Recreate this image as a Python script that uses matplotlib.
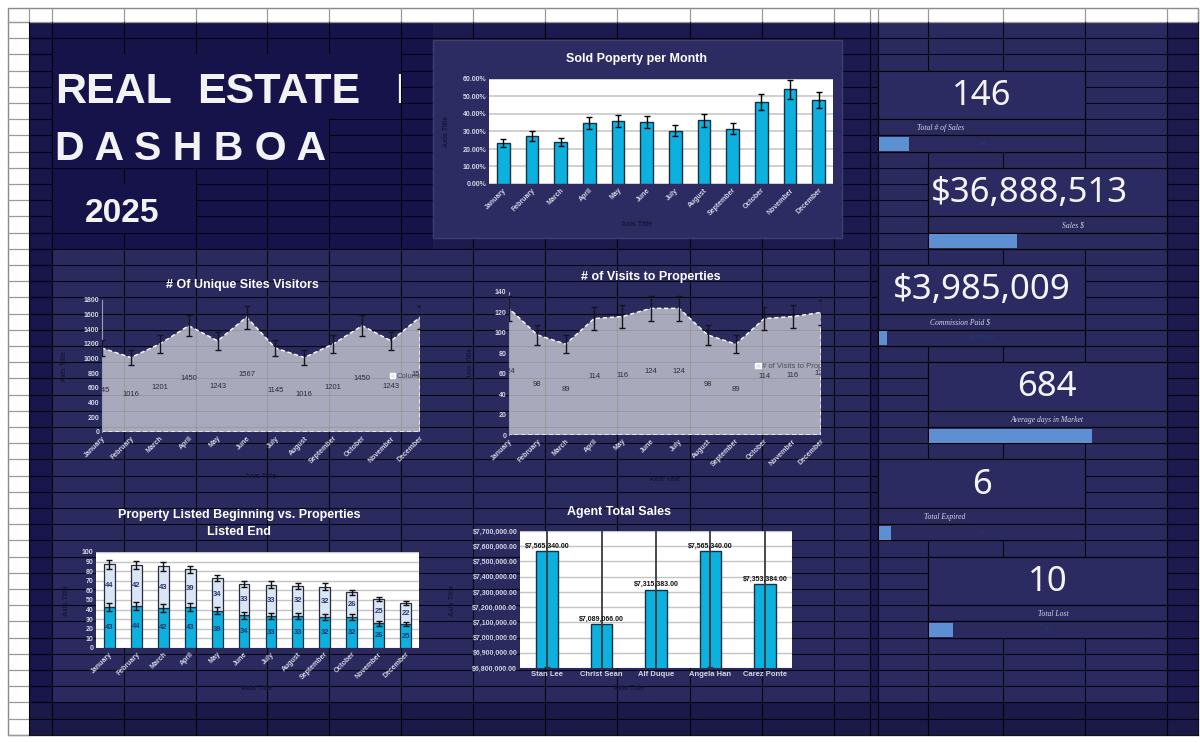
import numpy as np
import matplotlib
matplotlib.use('Agg')
import matplotlib.pyplot as plt
from matplotlib.patches import Rectangle, Patch
from matplotlib.ticker import FuncFormatter, MultipleLocator

# ---------------- data ----------------
MONTHS = ['January', 'February', 'March', 'April', 'May', 'June', 'July',
          'August', 'September', 'October', 'November', 'December']
SOLD_PCT = [23.5, 27.5, 24.0, 35.0, 36.0, 35.5, 30.5, 36.5, 31.5, 47.0, 54.0, 48.0]
SITE_VISITORS = [1145, 1016, 1201, 1450, 1243, 1567, 1145, 1016, 1201, 1450, 1243, 1567]
PROPERTY_VISITS = [124, 98, 89, 114, 116, 124, 124, 98, 89, 114, 116, 120]
LISTED_BEGIN = [43, 44, 42, 43, 39, 34, 33, 33, 32, 32, 26, 25]
LISTED_END = [44, 42, 43, 39, 34, 33, 33, 32, 32, 26, 25, 22]
AGENTS = ['Stan Lee', 'Christ Sean', 'Alf Duque', 'Angela Han', 'Carez Ponte']
AGENT_SALES = [7565340, 7089066, 7315383, 7565340, 7353384]
KPI_NUMS = [146, 36888513, 3985009, 684, 6, 10]
KPI_MONEY = [False, True, True, False, False, False]
KPI_LABELS = ['Total # of Sales', 'Sales $', 'Commission Paid $',
              'Average days in Market', 'Total Expired', 'Total Lost']
KPI_BAR_MAX = [1000, 1e8, 1e8, 1000, 100, 100]
ERR_PCT = 0.10   # excel percentage error bars

# ---------------- style ----------------
W, H = 1200, 743
SANS = ['Liberation Sans', 'DejaVu Sans']
BAR_BLUE = '#0db1df'
BAR_EDGE = '#18303e'
TICK_C = '#d4d4e4'
AXT_C = '#16163a'
NAVY = '#1c1a4e'
TITLE_BG = '#16134a'
BAND = '#2a2a5f'
KPI_BG = '#2a2a5f'
BOX_BG = '#2b2b61'
COLS = [29, 52, 124, 196, 267, 329, 401, 473, 545, 617, 690, 762, 834, 870,
        878, 928, 1003, 1085, 1167, 1198]
ROWS = [22 + 16.2 * k for k in range(45)]

plt.rcParams['font.family'] = SANS

fig = plt.figure(figsize=(12, 7.43), dpi=100)
fig.patch.set_facecolor('white')


def fig_rect(x0, y0, x1, y1):
    return [x0 / W, 1 - y1 / H, (x1 - x0) / W, (y1 - y0) / H]


def ftext(x, y, s, **kw):
    return fig.text(x / W, 1 - y / H, s, **kw)


bg = fig.add_axes([0, 0, 1, 1])
bg.set_xlim(0, W)
bg.set_ylim(H, 0)
bg.axis('off')


def rect(x0, y0, x1, y1, fc, ec='none', lw=0, z=1):
    r = Rectangle((x0, y0), x1 - x0, y1 - y0, facecolor=fc, edgecolor=ec, linewidth=lw, zorder=z)
    bg.add_patch(r)
    return r


# ---------------- spreadsheet background ----------------
rect(8, 8, 1198, 735, 'white', '#8a8a8a', 1, z=0)
rect(29, 22, 1198, 735, NAVY, z=1)
rect(29, 22, 433, 250, TITLE_BG, z=1)
rect(29, 22, 52, 735, '#18164a', z=1)
rect(52, 250, 870, 702, BAND, z=1)
rect(878, 22, 1167, 702, KPI_BG, z=1)
rect(29, 702, 1198, 735, '#1b1948', z=1)

for y in ROWS:
    bg.plot([8, 29], [y, y], color='#9a9a9a', lw=0.9, zorder=2)
for x in COLS:
    bg.plot([x, x], [8, 22], color='#9a9a9a', lw=0.9, zorder=2)
bg.plot([8, 1198], [22, 22], color='#9a9a9a', lw=0.9, zorder=2)
for y in ROWS[1:]:
    bg.plot([29, 1198], [y, y], color='black', lw=0.8, alpha=0.85, zorder=2)
for x in COLS:
    bg.plot([x, x], [22, 735], color='black', lw=0.8, alpha=0.85, zorder=2)

# merged title cells
t1 = rect(53, ROWS[2], 401, ROWS[6], TITLE_BG, z=3)
rect(53, ROWS[6], 329, ROWS[9], TITLE_BG, z=3)
rect(53, ROWS[10], 196, ROWS[13], TITLE_BG, z=3)
for xw, word in [(55, 'REAL'), (197, 'ESTATE'), (395, 'D')]:
    t = bg.text(xw, 103, word, fontsize=31, fontweight='bold', color='#f2f2f2',
                va='baseline', ha='left', zorder=4, clip_on=True)
    t.set_clip_path(t1)
bg.text(55, 160, 'D A S H B O A', fontsize=29.5, fontweight='bold', color='#f2f2f2',
        va='baseline', ha='left', zorder=4)
bg.text(85, 222, '2025', fontsize=24, fontweight='bold', color='#f2f2f2',
        va='baseline', ha='left', zorder=4)

# sold chart panel
rect(433, 40, 842, 238, '#2c2c62', '#3e3e74', 1, z=3)

# ---------------- KPI column ----------------
for i in range(len(KPI_NUMS)):
    x0, x1 = (878, 1085) if i % 2 == 0 else (928, 1167)
    top = 3 + 6 * i
    rect(x0, ROWS[top], x1, ROWS[top + 3], BOX_BG, 'black', 0.8, z=3)
    rect(x0, ROWS[top + 3], x1, ROWS[top + 4], KPI_BG, 'black', 0.8, z=3)
    rect(x0, ROWS[top + 4], x1, ROWS[top + 5], KPI_BG, 'black', 0.8, z=3)

NUM_X = [982, 1029, 982, 1047, 982, 1048]
LAB_X = [941, 1073, 960, 1047, 945, 1053]
TINY_X = [983, 930, 982, 1047, 982, 1047]
for i, (val, money, label) in enumerate(zip(KPI_NUMS, KPI_MONEY, KPI_LABELS)):
    top = 3 + 6 * i
    s = ('${:,.0f}'.format(val) if money else str(val))
    bg.text(NUM_X[i], (ROWS[top] + ROWS[top + 3]) / 2 + 1, s, fontsize=25, color='#f4f4f8',
            ha='center', va='center', family=['Noto Sans', 'DejaVu Sans'], zorder=5)
    bg.text(LAB_X[i], (ROWS[top + 3] + ROWS[top + 4]) / 2 + 1, label, fontsize=5.5,
            style='italic', color='#d6d6e4', ha='center', va='center',
            family=['Liberation Serif', 'DejaVu Serif'], zorder=5)
    x0, x1 = (878, 1085) if i % 2 == 0 else (928, 1167)
    yb = ROWS[top + 4]
    bax = fig.add_axes(fig_rect(x0 + 1, yb + 1.5, x1, yb + 15.5))
    bax.barh(0, val, height=1, left=0, color='#5d8fd3')
    bax.set_xlim(0, KPI_BAR_MAX[i])
    bax.set_ylim(-0.5, 0.5)
    bax.axis('off')
    ha = 'left' if i == 1 else 'center'
    bg.text(TINY_X[i], yb + 8, s, fontsize=4, color='#1f3d80', ha=ha, va='center',
            family=['Liberation Serif', 'DejaVu Serif'], zorder=6)


def month_ticks(ax, size=5):
    ax.set_xticks(range(len(MONTHS)))
    ax.set_xticklabels(MONTHS, rotation=45, ha='right', rotation_mode='anchor',
                       fontsize=size, fontweight='bold', color=TICK_C)
    ax.tick_params(axis='both', length=0, pad=2)
    for lab in ax.get_yticklabels():
        lab.set_fontweight('bold')
        lab.set_color(TICK_C)
        lab.set_fontsize(size)


def clean_spines(ax, left=False):
    for sp in ax.spines.values():
        sp.set_visible(False)
    if left:
        ax.spines['left'].set_visible(True)
        ax.spines['left'].set_color('#9c9cb4')
        ax.spines['left'].set_linewidth(0.8)


# ---------------- Sold property per month ----------------
ax = fig.add_axes(fig_rect(489, 79, 833, 184))
x = np.arange(len(SOLD_PCT))
ax.bar(x, SOLD_PCT, width=0.45, color=BAR_BLUE, edgecolor=BAR_EDGE, linewidth=1,
       yerr=np.array(SOLD_PCT) * ERR_PCT, capsize=2,
       error_kw=dict(ecolor='black', elinewidth=1, capthick=1), zorder=3)
ax.set_facecolor('white')
ax.set_ylim(0, 60)
ax.set_xlim(-0.5, 11.5)
ax.yaxis.set_major_locator(MultipleLocator(10))
ax.yaxis.set_major_formatter(FuncFormatter(lambda v, p: '%.2f%%' % v))
ax.grid(axis='y', color='#c4c4c4', lw=1.1)
ax.set_axisbelow(True)
clean_spines(ax)
month_ticks(ax, 5)
ftext(637, 59, 'Sold Poperty per Month', fontsize=9, fontweight='bold', color='white',
      ha='center', va='center')
ftext(637, 224, 'Axis Title', fontsize=5, fontweight='bold', color=AXT_C, ha='center', va='center')
ftext(447, 131, 'Axis Title', fontsize=5, fontweight='bold', color=AXT_C, ha='center',
      va='center', rotation=90)


# ---------------- area charts ----------------
def area_chart(box, vals, ymax, step, title, title_xy, leg_label, leg_anchor, xlab_y, ylab_x):
    ax = fig.add_axes(fig_rect(*box))
    x = np.arange(len(vals))
    ax.fill_between(x, 0, vals, facecolor=(1, 1, 1, 0.6), edgecolor='white',
                    linestyle=(0, (3, 2)), linewidth=1, zorder=2)
    ax.errorbar(x, vals, yerr=np.array(vals) * ERR_PCT, fmt='none', ecolor='#15151f',
                elinewidth=1, capsize=2.5, capthick=1, zorder=3)
    for xi, v in zip(x, vals):
        ax.text(xi, v / 2, str(v), ha='center', va='center', fontsize=5.5, color='#2c2c38',
                clip_on=True, zorder=4)
    ax.set_xlim(0, len(vals) - 1)
    ax.set_ylim(0, ymax)
    ax.yaxis.set_major_locator(MultipleLocator(step))
    ax.patch.set_visible(False)
    clean_spines(ax, left=True)
    month_ticks(ax, 5)
    leg = ax.legend(handles=[Patch(facecolor='#e8e8f2', edgecolor='white', label=leg_label)],
                    loc='center left', bbox_to_anchor=leg_anchor, frameon=False, fontsize=5.5,
                    handlelength=0.7, handleheight=0.7, handletextpad=0.2,
                    borderaxespad=0, borderpad=0)
    for t in leg.get_texts():
        t.set_color('#4a4a5a')
        t.set_clip_box(ax.bbox)
        t.set_clip_on(True)
    ftext(title_xy[0], title_xy[1], title, fontsize=9, fontweight='bold', color='white',
          ha='center', va='center')
    cx = (box[0] + box[2]) / 2
    ftext(cx, xlab_y, 'Axis Title', fontsize=5, fontweight='bold', color=AXT_C,
          ha='center', va='center')
    ftext(ylab_x, (box[1] + box[3]) / 2, 'Axis Title', fontsize=5, fontweight='bold',
          color=AXT_C, ha='center', va='center', rotation=90)
    return ax


area_chart((102, 300, 420, 432), SITE_VISITORS, 1800, 200, '# Of Unique Sites Visitors',
           (242, 285), 'Column1', (0.905, 0.42), 477, 65)
area_chart((509, 292, 821, 435), PROPERTY_VISITS, 140, 20, '# of Visits to Properties',
           (651, 277), '# of Visits to Properties', (0.79, 0.48), 480, 470)

# ---------------- listed beginning vs end ----------------
ax = fig.add_axes(fig_rect(96, 552, 419, 648))
x = np.arange(len(LISTED_BEGIN))
beg = np.array(LISTED_BEGIN)
end = np.array(LISTED_END)
ekw = dict(ecolor='#111111', elinewidth=1, capthick=1)
ax.bar(x, beg, width=0.4, color=BAR_BLUE, edgecolor=BAR_EDGE, linewidth=0.9,
       yerr=beg * ERR_PCT, capsize=2, error_kw=ekw, zorder=3)
ax.bar(x, end, bottom=beg, width=0.4, color='#dae6f5', edgecolor='#2a2a3a', linewidth=0.9,
       yerr=end * ERR_PCT, capsize=2, error_kw=ekw, zorder=3)
for xi, b, e in zip(x, beg, end):
    ax.text(xi, b / 2, str(b), ha='center', va='center', fontsize=5.5, fontweight='bold',
            color='#26386e', zorder=5)
    ax.text(xi, b + e / 2, str(e), ha='center', va='center', fontsize=5.5, fontweight='bold',
            color='#26386e', zorder=5)
ax.set_facecolor('white')
ax.set_ylim(0, 100)
ax.set_xlim(-0.5, 11.5)
ax.yaxis.set_major_locator(MultipleLocator(10))
ax.grid(axis='y', color='#c4c4c4', lw=1)
ax.set_axisbelow(True)
clean_spines(ax)
month_ticks(ax, 5)
ftext(239, 515, 'Property Listed Beginning vs. Properties', fontsize=9, fontweight='bold',
      color='white', ha='center', va='center')
ftext(239, 532, 'Listed End', fontsize=9, fontweight='bold', color='white',
      ha='center', va='center')
ftext(257, 688, 'Axis Title', fontsize=5, fontweight='bold', color=AXT_C, ha='center', va='center')
ftext(67, 600, 'Axis Title', fontsize=5, fontweight='bold', color=AXT_C, ha='center',
      va='center', rotation=90)

# ---------------- agent total sales ----------------
ax = fig.add_axes(fig_rect(520, 531, 792, 668))
x = np.arange(len(AGENTS))
sales = np.array(AGENT_SALES)
ax.bar(x, sales, width=0.4, color=BAR_BLUE, edgecolor=BAR_EDGE, linewidth=1, zorder=3)
ax.errorbar(x, sales, yerr=sales * ERR_PCT, fmt='none', ecolor='#3a3a3a', elinewidth=1.3,
            capsize=2, capthick=1, zorder=4)
for xi, v in zip(x, sales):
    ax.text(xi, v + 8000, '${:,.2f}'.format(v), ha='center', va='bottom', fontsize=5,
            fontweight='bold', color='#111111', zorder=5)
ax.set_facecolor('white')
ax.set_ylim(6800000, 7700000)
ax.set_xlim(-0.5, 4.5)
ax.yaxis.set_major_locator(MultipleLocator(100000))
ax.yaxis.set_major_formatter(FuncFormatter(lambda v, p: '${:,.2f}'.format(v)))
ax.grid(axis='y', color='#c4c4c4', lw=1)
ax.set_axisbelow(True)
clean_spines(ax)
ax.set_xticks(x)
ax.set_xticklabels(AGENTS, fontsize=5.5, fontweight='bold', color=TICK_C)
ax.tick_params(axis='both', length=0, pad=2)
for lab in ax.get_yticklabels():
    lab.set_fontweight('bold')
    lab.set_color(TICK_C)
    lab.set_fontsize(5)
ftext(619, 512, 'Agent Total Sales', fontsize=9, fontweight='bold', color='white',
      ha='center', va='center')
ftext(629, 688, 'Axis Title', fontsize=5, fontweight='bold', color=AXT_C, ha='center', va='center')
ftext(453, 600, 'Axis Title', fontsize=5, fontweight='bold', color=AXT_C, ha='center',
      va='center', rotation=90)

fig.savefig('out.png', dpi=100)
